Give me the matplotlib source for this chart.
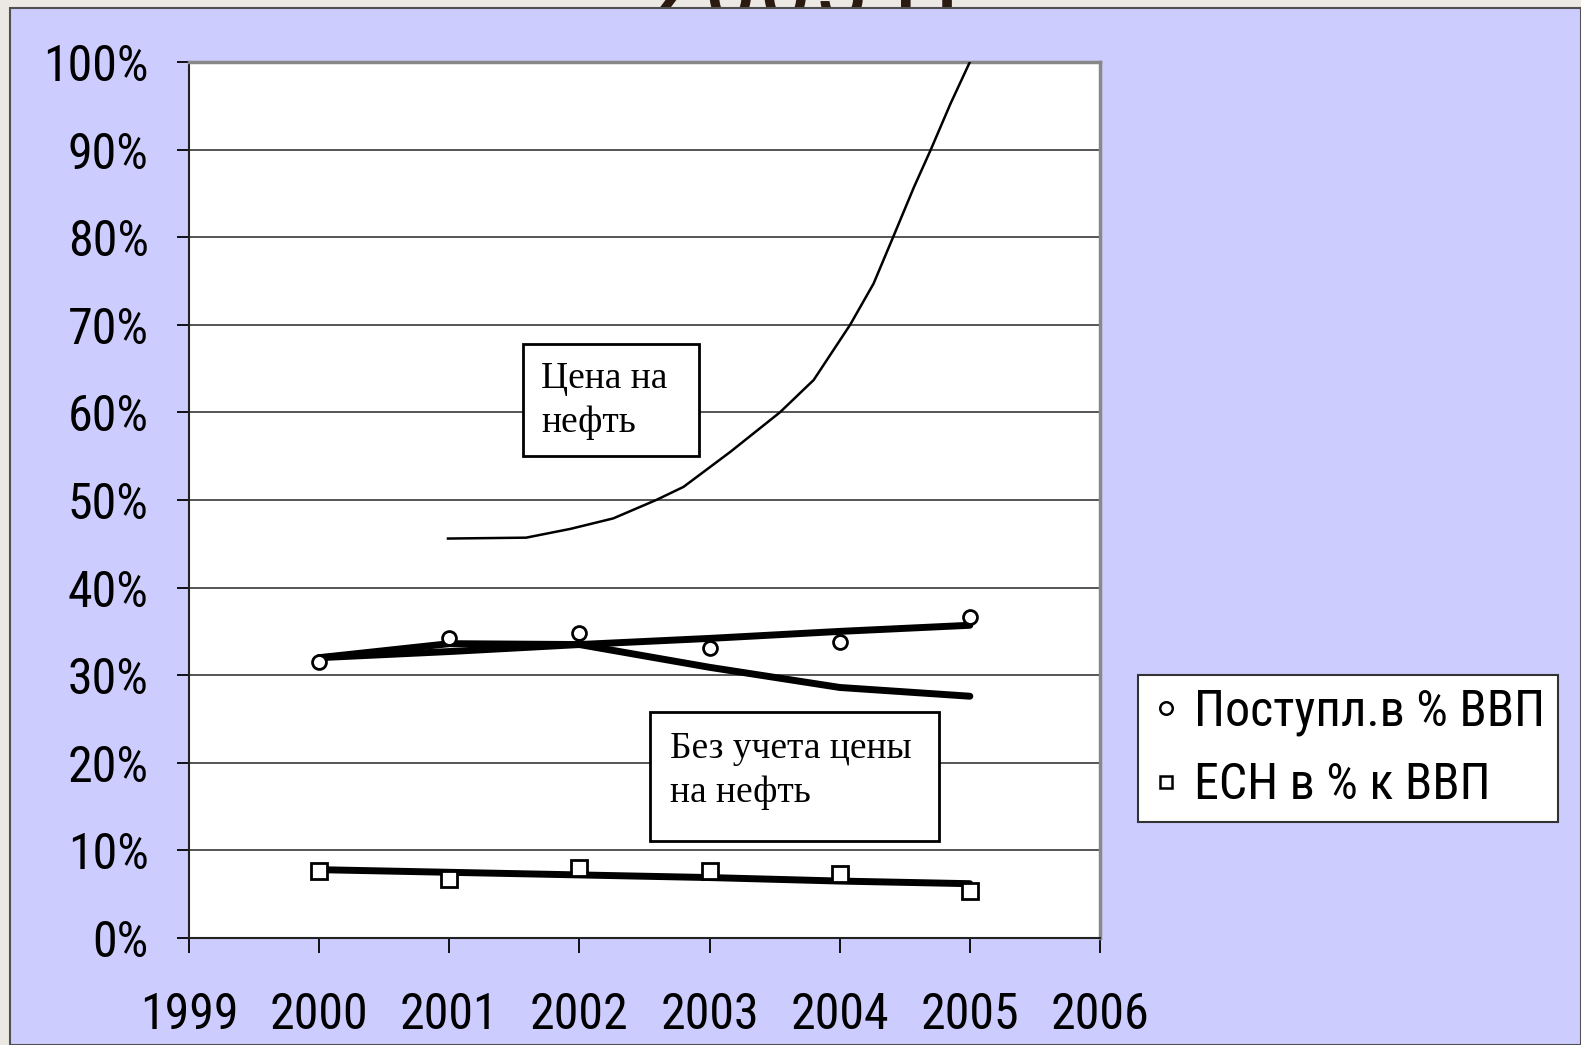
import matplotlib
matplotlib.use('Agg')
from matplotlib import pyplot as plt
from matplotlib.patches import Rectangle
from matplotlib.lines import Line2D

# data (percent of GDP)
years = [2000, 2001, 2002, 2003, 2004, 2005]
postupl = [31.5, 34.2, 34.8, 33.1, 33.8, 36.6]          # circles
postupl_trend = [32.0, 32.7, 33.5, 34.2, 35.0, 35.7]    # thick line through circles
bez_nefti = [32.0, 33.6, 33.5, 30.9, 28.6, 27.6]        # without oil price
esn = [7.6, 6.7, 8.0, 7.7, 7.3, 5.4]                    # squares
esn_trend = [7.8, 7.5, 7.2, 6.9, 6.5, 6.2]

oil_years = [2000.99, 2001.59, 2001.93, 2002.26, 2002.59, 2002.80, 2003.16, 2003.54,
             2003.80, 2004.08, 2004.26, 2004.41, 2004.57, 2004.70, 2004.85, 2005.00]
oil_price = [45.6, 45.7, 46.7, 47.9, 50.0, 51.5, 55.5, 60.0,
             63.7, 70.0, 74.7, 80.0, 85.7, 90.0, 95.2, 100.0]

x_ticks = [1999, 2000, 2001, 2002, 2003, 2004, 2005, 2006]
y_ticks = [0, 10, 20, 30, 40, 50, 60, 70, 80, 90, 100]

sans = ['Roboto Condensed', 'DejaVu Sans']
serif = ['Liberation Serif', 'DejaVu Serif']

W, H = 1581, 1045
fig = plt.figure(figsize=(W / 100, H / 100), dpi=100, facecolor='#ECE9E5')


def fx(px):
    return px / W


def fy(py):
    return 1 - py / H


# lavender panel
fig.patches.append(Rectangle((fx(10), 0), 1 - fx(10), fy(8), transform=fig.transFigure,
                             fc='#CCCCFF', ec='#505050', lw=1.5, zorder=-5))
# title of the slide, mostly hidden behind the panel
fig.text(fx(812), fy(22), '2005 гг', fontsize=80, family=sans, color='#2A1A10',
         ha='center', va='baseline', zorder=-6)

ax = fig.add_axes([fx(189), fy(938), fx(1100) - fx(189), fy(62) - fy(938)])
ax.set_facecolor('white')

ax.set_xlim(1999, 2006)
ax.set_ylim(0, 100)
ax.set_xticks(x_ticks)
ax.set_yticks(y_ticks)
ax.set_xticklabels([str(v) for v in x_ticks], family=sans, fontsize=36)
ax.set_yticklabels([f'{v}%' for v in y_ticks], family=sans, fontsize=36)
ax.tick_params(axis='x', direction='out', length=11, width=1.3, pad=27)
ax.tick_params(axis='y', direction='out', length=9, width=1.3, pad=20)
ax.yaxis.grid(True, color='#555555', lw=1.4)
ax.set_axisbelow(True)
for s in ['top', 'right']:
    ax.spines[s].set_color('#888888')
    ax.spines[s].set_linewidth(2.5)
for s in ['left', 'bottom']:
    ax.spines[s].set_color('#222222')
    ax.spines[s].set_linewidth(1.5)

ax.plot(oil_years, oil_price, color='black', lw=1.8, zorder=3)
ax.plot(years, postupl_trend, color='black', lw=5, zorder=3, solid_capstyle='round')
ax.plot(years, bez_nefti, color='black', lw=5, zorder=3, solid_capstyle='round')
ax.plot(years, esn_trend, color='black', lw=5, zorder=3, solid_capstyle='round')
ax.plot(years, postupl, ls='none', marker='o', ms=10, mfc='white', mec='black', mew=2, zorder=4)
ax.plot(years, esn, ls='none', marker='s', ms=11, mfc='white', mec='black', mew=2, zorder=4)

# annotation boxes
fig.patches.append(Rectangle((fx(523), fy(456)), fx(699) - fx(523), fy(344) - fy(456),
                             transform=fig.transFigure, fc='white', ec='black', lw=2, zorder=5))
fig.text(fx(541), fy(388), 'Цена на', family=serif, fontsize=27, va='baseline', zorder=6)
fig.text(fx(541), fy(432), 'нефть', family=serif, fontsize=27, va='baseline', zorder=6)

fig.patches.append(Rectangle((fx(650), fy(841)), fx(939) - fx(650), fy(712) - fy(841),
                             transform=fig.transFigure, fc='white', ec='black', lw=2, zorder=5))
fig.text(fx(670), fy(758), 'Без учета цены', family=serif, fontsize=27, va='baseline', zorder=6)
fig.text(fx(670), fy(802), 'на нефть', family=serif, fontsize=27, va='baseline', zorder=6)

handles = [Line2D([], [], ls='none', marker='o', ms=9, mfc='white', mec='black', mew=1.8),
           Line2D([], [], ls='none', marker='s', ms=9, mfc='white', mec='black', mew=1.8)]
leg = fig.legend(handles, ['Поступл.в % ВВП', 'ЕСН в % к ВВП'], loc='upper left',
                 bbox_to_anchor=(fx(1138), fy(675)), borderaxespad=0, frameon=True,
                 fancybox=False, framealpha=1, prop={'family': sans, 'size': 36},
                 handlelength=0.6, handletextpad=0.27, borderpad=0.25, labelspacing=0.5)
leg.get_frame().set_edgecolor('#333333')
leg.get_frame().set_linewidth(1.5)

fig.savefig('out.png', dpi=100, facecolor=fig.get_facecolor())
